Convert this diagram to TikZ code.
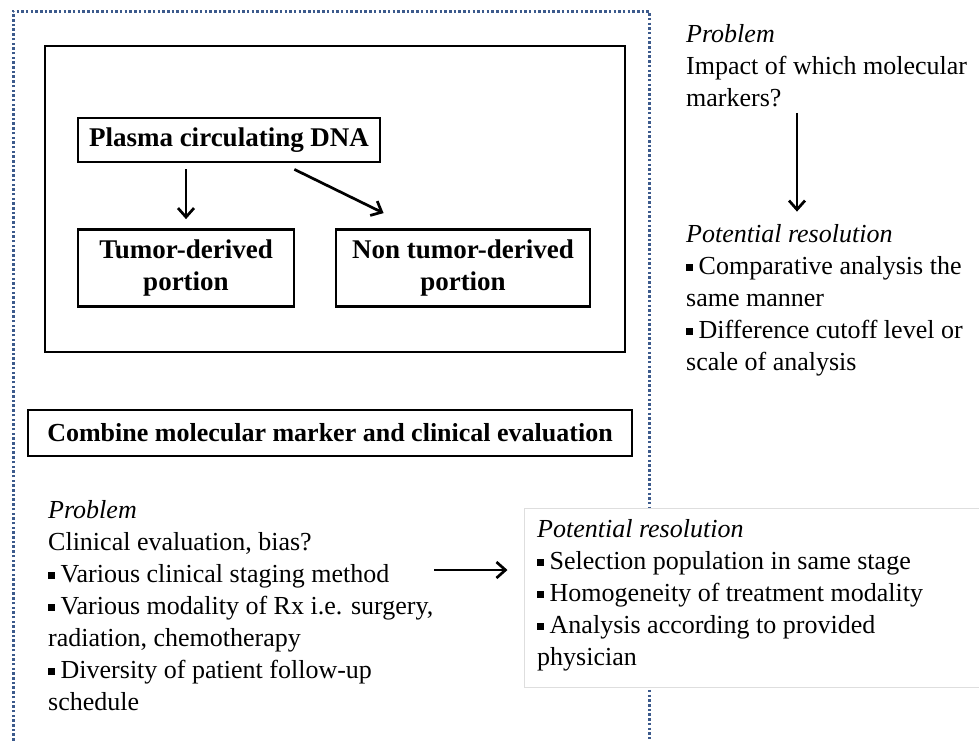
\documentclass[tikz,border=0pt]{standalone}
\usepackage{fontspec}
\setmainfont{Liberation Serif}
\usetikzlibrary{arrows.meta,calc}
\definecolor{dotblue}{RGB}{60,90,140}
\definecolor{shadowgrey}{RGB}{222,222,222}
\newcommand{\blt}{\raisebox{3.5pt}{\rule{6.5pt}{6.5pt}}\hspace{6pt}}
\begin{document}
\begin{tikzpicture}[x=1pt,y=-1pt,
  boxline/.style={draw=black, line width=2.8pt},
  flowbox/.style={boxline, font=\fontsize{27}{32}\selectfont\bfseries, align=center, inner sep=0pt},
  txt/.style={anchor=north west, align=left, inner sep=0pt, font=\fontsize{26}{32}\selectfont},
  arr/.style={draw=black, line width=2.7pt, -{Straight Barb[length=9pt,width=16pt,line width=2.7pt]}},
  dotline/.style={draw=dotblue, line width=3pt, dash pattern=on 2.5pt off 2.2pt}
]
\useasboundingbox (0,0) rectangle (979,740);
% dotted frame (open at the bottom)
\begin{scope}
\clip (0,0) rectangle (979,740);
\draw[dotline] (13,750) -- (13,11) -- (649,11) -- (649,750);
\end{scope}

% outer container
\node[boxline, minimum width=580pt, minimum height=306pt, inner sep=0pt] (outer) at (335,199) {};

\node[flowbox, minimum width=302pt, minimum height=44pt] (plasma) at (229,140) {Plasma circulating DNA};
\node[flowbox, minimum width=216pt, minimum height=77pt] (tumor) at (186,268) {Tumor-derived\\portion};
\node[flowbox, minimum width=254pt, minimum height=77pt] (nontumor) at (463,268) {Non tumor-derived\\portion};

\draw[arr, shorten <=6pt, shorten >=9pt] (plasma.south -| tumor.north) -- (tumor.north);
\draw[arr] ([xshift=-87pt,yshift=-6pt]plasma.south east) -- ([xshift=49pt,yshift=15pt]nontumor.north west);

% combine box
\node[boxline, font=\fontsize{26}{30}\selectfont\bfseries, minimum width=604pt, minimum height=46pt, inner sep=0pt] (combine) at (330,433) {Combine molecular marker and clinical evaluation};

% top right column
\node[txt] (prob1) at (686,19.6) {\strut\textit{Problem}\\Impact of which molecular\\markers?};
\node[txt] (res1) at (686,219.6) {\strut\textit{Potential resolution}\\\blt Comparative analysis the\\same manner\\\blt Difference cutoff level or\\scale of analysis};
\draw[arr, shorten <=6pt, shorten >=8pt] (prob1.south -| 797,0) -- (res1.north -| 797,0);

% bottom left problem
\node[txt] (prob2) at (48,495.6) {\strut\textit{Problem}\\Clinical evaluation, bias?\\\blt Various clinical staging method\\\blt Various modality of Rx i.e. surgery,\\radiation, chemotherapy\\\blt Diversity of patient follow-up\\schedule};

% bottom right resolution box
\node[draw=shadowgrey, fill=white, line width=1pt, minimum width=470pt, minimum height=179pt, inner sep=0pt] (resbox) at (759,597.5) {};
\node[txt] (res2) at (537,514.6) {\strut\textit{Potential resolution}\\\blt Selection population in same stage\\\blt Homogeneity of treatment modality\\\blt Analysis according to provided\\physician};

\coordinate (arrstart) at (434,570);
\draw[arr] (arrstart) -- ([xshift=-16pt]arrstart -| resbox.west);
\end{tikzpicture}
\end{document}
